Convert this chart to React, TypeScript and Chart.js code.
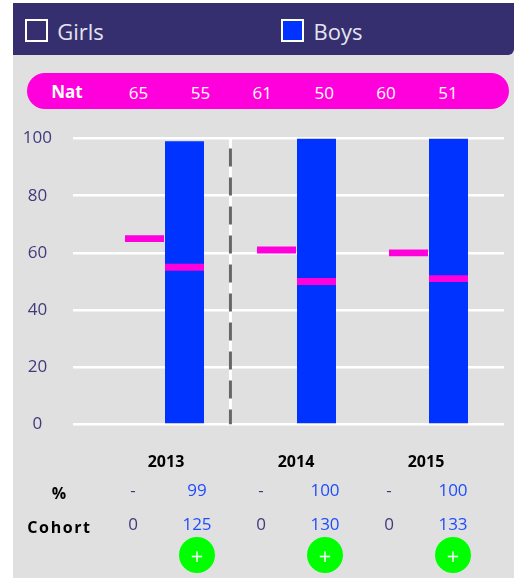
import React, { useEffect, useRef } from "react";
import { Chart, registerables } from "chart.js";

Chart.register(...registerables);

const years = ["2013", "2014", "2015"];
const yearPositions = [1, 2, 3];
const girlsValues = [0, 0, 0];
const boysValues = [99, 100, 100];
const natGirls = [65, 61, 60];
const natBoys = [55, 50, 51];
const girlsPct = ["-", "-", "-"];
const boysPct = ["99", "100", "100"];
const girlsCohort = ["0", "0", "0"];
const boysCohort = ["125", "130", "133"];
const yTicks = [0, 20, 40, 60, 80, 100];
const dividerAt = 1.348;
const natMarkerHalf = 1.2;

const FONT = "'Open Sans', sans-serif";
const NAVY = "#352f6f";
const AXIS_TEXT = "#403a7c";
const BLUE = "#0033ff";
const BLUE_TEXT = "#1f4cff";
const MAGENTA = "#ff00dd";
const PANEL = "#e0e0e0";

const toPoints = (vals: number[]) => vals.map((y, i) => ({ x: yearPositions[i], y }));
const toMarkers = (vals: number[]) =>
  vals.map((v, i) => ({ x: yearPositions[i], y: [v - natMarkerHalf, v + natMarkerHalf] }));

function T({ x, y, children, style }: any) {
  return (
    <div
      style={{
        position: "absolute",
        left: x,
        top: y,
        transform: "translate(-50%,-50%)",
        whiteSpace: "nowrap",
        lineHeight: 1,
        ...style,
      }}
    >
      {children}
    </div>
  );
}

export default function App() {
  const ref = useRef<HTMLCanvasElement>(null);

  useEffect(() => {
    // Three horizontal scales share the plot: the girls' slot, the boys' slot, and the year labels.
    const spacing = 132;
    const slotAxis = (firstCentrePx: number) => ({
      type: "linear",
      display: false,
      offset: false,
      min: 1 - (firstCentrePx - 73) / spacing,
      max: 3 + (504 - firstCentrePx - 2 * spacing) / spacing,
    });
    const bar = { grouped: false, maxBarThickness: 39 };
    const chart = new Chart(ref.current!, {
      type: "bar",
      data: {
        datasets: [
          {
            type: "line",
            label: "divider base",
            data: [{ x: dividerAt, y: 100 }, { x: dividerAt, y: 0 }],
            borderColor: "#ffffff",
            borderWidth: 3,
            pointRadius: 0,
            xAxisID: "xBoys",
            order: 3,
          },
          {
            type: "line",
            label: "divider",
            data: [{ x: dividerAt, y: 100 }, { x: dividerAt, y: 0 }],
            borderColor: "#666666",
            borderWidth: 3,
            borderDash: [18, 11],
            borderDashOffset: 19,
            pointRadius: 0,
            xAxisID: "xBoys",
            order: 2,
          },
          { label: "Girls", data: toPoints(girlsValues), backgroundColor: "rgba(0,0,0,0)", xAxisID: "xGirls", order: 4, ...bar },
          { label: "Boys", data: toPoints(boysValues), backgroundColor: BLUE, xAxisID: "xBoys", order: 5, ...bar },
          { label: "Nat Girls", data: toMarkers(natGirls), backgroundColor: MAGENTA, xAxisID: "xGirls", order: 0, ...bar },
          { label: "Nat Boys", data: toMarkers(natBoys), backgroundColor: MAGENTA, xAxisID: "xBoys", order: 1, ...bar },
        ] as any,
      },
      options: {
        animation: false,
        responsive: false,
        layout: { padding: { left: 13, right: 10, top: 138.5, bottom: 0 } },
        plugins: { legend: { display: false }, tooltip: { enabled: false } },
        scales: {
          xGirls: slotAxis(144.5),
          xBoys: slotAxis(184.5),
          xLabels: {
            type: "linear",
            position: "bottom",
            offset: false,
            min: 1 - 93 / 130,
            max: 3 + 78 / 130,
            grid: { display: false },
            border: { display: false },
            afterBuildTicks: (s: any) => {
              s.ticks = yearPositions.map((value) => ({ value }));
            },
            afterFit: (s: any) => {
              s.height = 153.5;
            },
            ticks: {
              autoSkip: false,
              maxRotation: 0,
              padding: 20,
              color: "#000000",
              font: { family: FONT, size: 16, weight: "bold" },
              callback: (v: any) => years[Number(v) - 1],
            },
          },
          y: {
            type: "linear",
            min: 0,
            max: 100,
            afterBuildTicks: (s: any) => {
              s.ticks = yTicks.map((value) => ({ value }));
            },
            afterFit: (s: any) => {
              s.width = 60;
            },
            grid: { color: "#ffffff", lineWidth: 2.5, drawTicks: false },
            border: { display: false },
            ticks: {
              color: AXIS_TEXT,
              padding: 21,
              crossAlign: "center",
              font: { family: FONT, size: 17 },
            },
          },
        },
      } as any,
    });
    return () => chart.destroy();
  }, []);

  const natValues = years.flatMap((_, i) => [natGirls[i], natBoys[i]]);

  return (
    <div style={{ position: "fixed", left: 0, top: 0, width: 514, height: 578, background: "#fff", overflow: "hidden", fontFamily: FONT }}>
      <div style={{ position: "absolute", left: 13, top: 3, width: 501, height: 575, background: PANEL }} />
      <div style={{ position: "absolute", left: 13, top: 3, width: 501, height: 52, background: NAVY, borderBottomRightRadius: 6 }} />
      <div style={{ position: "absolute", left: 25, top: 19, width: 23, height: 23, boxSizing: "border-box", border: "2.5px solid #fff" }} />
      <T x={80.5} y={31} style={{ fontSize: 22, color: "#e4e4f0" }}>Girls</T>
      <div style={{ position: "absolute", left: 281, top: 19, width: 23, height: 23, boxSizing: "border-box", border: "2.5px solid #fff", background: BLUE }} />
      <T x={338} y={31} style={{ fontSize: 22, color: "#e4e4f0" }}>Boys</T>

      <div style={{ position: "absolute", left: 27, top: 73, width: 482, height: 36, borderRadius: 18, background: MAGENTA }} />
      <T x={67} y={91} style={{ fontSize: 17, fontWeight: 700, color: "#fff" }}>Nat</T>
      {natValues.map((v, i) => (
        <T key={i} x={138.5 + i * 61.9} y={92} style={{ fontSize: 17, color: "#fff" }}>{v}</T>
      ))}

      <canvas ref={ref} width={514} height={578} style={{ position: "absolute", left: 0, top: 0, display: "block" }} />

      <T x={59} y={493} style={{ fontSize: 16, fontWeight: 700, color: "#000" }}>%</T>
      <T x={59.5} y={527} style={{ fontSize: 16, fontWeight: 700, color: "#000", letterSpacing: 1.6 }}>Cohort</T>
      {years.map((y, i) => {
        const gx = 133 + i * 128;
        const bx = 197 + i * 128;
        return (
          <React.Fragment key={y}>
            <T x={gx} y={489} style={{ fontSize: 17, color: AXIS_TEXT }}>{girlsPct[i]}</T>
            <T x={bx} y={489} style={{ fontSize: 17, color: BLUE_TEXT }}>{boysPct[i]}</T>
            <T x={gx} y={523} style={{ fontSize: 17, color: AXIS_TEXT }}>{girlsCohort[i]}</T>
            <T x={bx} y={523} style={{ fontSize: 17, color: BLUE_TEXT }}>{boysCohort[i]}</T>
            <div style={{ position: "absolute", left: bx - 18, top: 537, width: 36, height: 36, borderRadius: 18, background: "#00ff00" }} />
            <T x={bx} y={554.5} style={{ fontSize: 22, color: "#fff" }}>+</T>
          </React.Fragment>
        );
      })}
    </div>
  );
}
